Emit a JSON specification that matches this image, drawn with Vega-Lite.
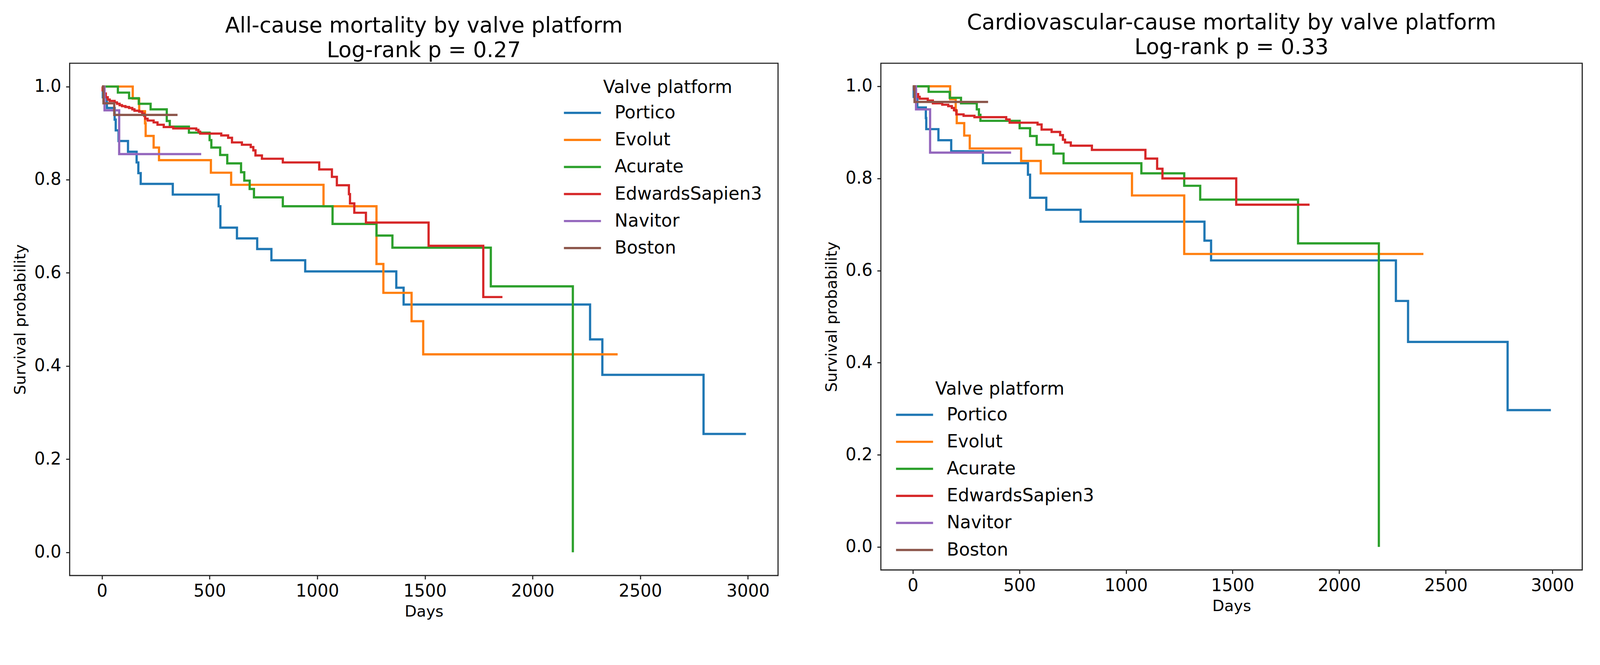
{
  "$schema": "https://vega.github.io/schema/vega-lite/v6.json",
  "padding": {"left": 31.3, "top": 29.9, "right": 5, "bottom": 5},
  "background": "white",
  "datasets": {
    "km": [
      {"p":"A","g":"Portico","d":0,"s":1},{"p":"A","g":"Portico","d":4,"s":0.977},{"p":"A","g":"Portico","d":23,"s":0.954},{"p":"A","g":"Portico","d":59,"s":0.929},{"p":"A","g":"Portico","d":64,"s":0.906},{"p":"A","g":"Portico","d":77,"s":0.883},{"p":"A","g":"Portico","d":121,"s":0.86},{"p":"A","g":"Portico","d":161,"s":0.837},{"p":"A","g":"Portico","d":169,"s":0.814},{"p":"A","g":"Portico","d":180,"s":0.791},{"p":"A","g":"Portico","d":329,"s":0.768},{"p":"A","g":"Portico","d":542,"s":0.743},{"p":"A","g":"Portico","d":550,"s":0.697},{"p":"A","g":"Portico","d":627,"s":0.674},{"p":"A","g":"Portico","d":721,"s":0.651},{"p":"A","g":"Portico","d":787,"s":0.627},{"p":"A","g":"Portico","d":944,"s":0.603},{"p":"A","g":"Portico","d":1367,"s":0.568},{"p":"A","g":"Portico","d":1401,"s":0.532},{"p":"A","g":"Portico","d":2267,"s":0.457},{"p":"A","g":"Portico","d":2324,"s":0.381},{"p":"A","g":"Portico","d":2794,"s":0.254},{"p":"A","g":"Portico","d":2991,"s":0.254},
      {"p":"A","g":"Evolut","d":0,"s":1},{"p":"A","g":"Evolut","d":143,"s":0.974},{"p":"A","g":"Evolut","d":173,"s":0.947},{"p":"A","g":"Evolut","d":200,"s":0.921},{"p":"A","g":"Evolut","d":203,"s":0.894},{"p":"A","g":"Evolut","d":240,"s":0.869},{"p":"A","g":"Evolut","d":265,"s":0.842},{"p":"A","g":"Evolut","d":506,"s":0.815},{"p":"A","g":"Evolut","d":600,"s":0.789},{"p":"A","g":"Evolut","d":1029,"s":0.743},{"p":"A","g":"Evolut","d":1275,"s":0.619},{"p":"A","g":"Evolut","d":1307,"s":0.557},{"p":"A","g":"Evolut","d":1438,"s":0.496},{"p":"A","g":"Evolut","d":1492,"s":0.425},{"p":"A","g":"Evolut","d":2395,"s":0.425},
      {"p":"A","g":"Acurate","d":0,"s":1},{"p":"A","g":"Acurate","d":74,"s":0.987},{"p":"A","g":"Acurate","d":126,"s":0.975},{"p":"A","g":"Acurate","d":171,"s":0.963},{"p":"A","g":"Acurate","d":226,"s":0.951},{"p":"A","g":"Acurate","d":301,"s":0.926},{"p":"A","g":"Acurate","d":315,"s":0.914},{"p":"A","g":"Acurate","d":404,"s":0.901},{"p":"A","g":"Acurate","d":500,"s":0.885},{"p":"A","g":"Acurate","d":508,"s":0.869},{"p":"A","g":"Acurate","d":549,"s":0.853},{"p":"A","g":"Acurate","d":582,"s":0.835},{"p":"A","g":"Acurate","d":646,"s":0.816},{"p":"A","g":"Acurate","d":661,"s":0.798},{"p":"A","g":"Acurate","d":686,"s":0.78},{"p":"A","g":"Acurate","d":706,"s":0.762},{"p":"A","g":"Acurate","d":840,"s":0.743},{"p":"A","g":"Acurate","d":1071,"s":0.705},{"p":"A","g":"Acurate","d":1275,"s":0.68},{"p":"A","g":"Acurate","d":1349,"s":0.654},{"p":"A","g":"Acurate","d":1806,"s":0.571},{"p":"A","g":"Acurate","d":2187,"s":0},
      {"p":"A","g":"EdwardsSapien3","d":0,"s":1},{"p":"A","g":"EdwardsSapien3","d":3,"s":0.992},{"p":"A","g":"EdwardsSapien3","d":9,"s":0.985},{"p":"A","g":"EdwardsSapien3","d":18,"s":0.977},{"p":"A","g":"EdwardsSapien3","d":27,"s":0.972},{"p":"A","g":"EdwardsSapien3","d":36,"s":0.969},{"p":"A","g":"EdwardsSapien3","d":59,"s":0.966},{"p":"A","g":"EdwardsSapien3","d":70,"s":0.963},{"p":"A","g":"EdwardsSapien3","d":82,"s":0.96},{"p":"A","g":"EdwardsSapien3","d":93,"s":0.958},{"p":"A","g":"EdwardsSapien3","d":109,"s":0.956},{"p":"A","g":"EdwardsSapien3","d":126,"s":0.954},{"p":"A","g":"EdwardsSapien3","d":141,"s":0.951},{"p":"A","g":"EdwardsSapien3","d":151,"s":0.948},{"p":"A","g":"EdwardsSapien3","d":173,"s":0.946},{"p":"A","g":"EdwardsSapien3","d":187,"s":0.942},{"p":"A","g":"EdwardsSapien3","d":196,"s":0.937},{"p":"A","g":"EdwardsSapien3","d":201,"s":0.931},{"p":"A","g":"EdwardsSapien3","d":212,"s":0.927},{"p":"A","g":"EdwardsSapien3","d":240,"s":0.923},{"p":"A","g":"EdwardsSapien3","d":258,"s":0.918},{"p":"A","g":"EdwardsSapien3","d":287,"s":0.913},{"p":"A","g":"EdwardsSapien3","d":331,"s":0.91},{"p":"A","g":"EdwardsSapien3","d":438,"s":0.907},{"p":"A","g":"EdwardsSapien3","d":448,"s":0.903},{"p":"A","g":"EdwardsSapien3","d":456,"s":0.899},{"p":"A","g":"EdwardsSapien3","d":554,"s":0.895},{"p":"A","g":"EdwardsSapien3","d":586,"s":0.89},{"p":"A","g":"EdwardsSapien3","d":604,"s":0.88},{"p":"A","g":"EdwardsSapien3","d":650,"s":0.875},{"p":"A","g":"EdwardsSapien3","d":691,"s":0.87},{"p":"A","g":"EdwardsSapien3","d":703,"s":0.863},{"p":"A","g":"EdwardsSapien3","d":713,"s":0.852},{"p":"A","g":"EdwardsSapien3","d":743,"s":0.845},{"p":"A","g":"EdwardsSapien3","d":840,"s":0.837},{"p":"A","g":"EdwardsSapien3","d":1009,"s":0.822},{"p":"A","g":"EdwardsSapien3","d":1068,"s":0.806},{"p":"A","g":"EdwardsSapien3","d":1091,"s":0.788},{"p":"A","g":"EdwardsSapien3","d":1147,"s":0.769},{"p":"A","g":"EdwardsSapien3","d":1152,"s":0.749},{"p":"A","g":"EdwardsSapien3","d":1172,"s":0.729},{"p":"A","g":"EdwardsSapien3","d":1226,"s":0.708},{"p":"A","g":"EdwardsSapien3","d":1517,"s":0.658},{"p":"A","g":"EdwardsSapien3","d":1771,"s":0.548},{"p":"A","g":"EdwardsSapien3","d":1860,"s":0.548},
      {"p":"A","g":"Navitor","d":0,"s":1},{"p":"A","g":"Navitor","d":12,"s":0.949},{"p":"A","g":"Navitor","d":80,"s":0.855},{"p":"A","g":"Navitor","d":461,"s":0.855},
      {"p":"A","g":"Boston","d":0,"s":1},{"p":"A","g":"Boston","d":7,"s":0.964},{"p":"A","g":"Boston","d":57,"s":0.939},{"p":"A","g":"Boston","d":351,"s":0.939},
      {"p":"B","g":"Portico","d":0,"s":1},{"p":"B","g":"Portico","d":4,"s":0.977},{"p":"B","g":"Portico","d":21,"s":0.954},{"p":"B","g":"Portico","d":61,"s":0.931},{"p":"B","g":"Portico","d":63,"s":0.907},{"p":"B","g":"Portico","d":120,"s":0.883},{"p":"B","g":"Portico","d":180,"s":0.859},{"p":"B","g":"Portico","d":329,"s":0.833},{"p":"B","g":"Portico","d":540,"s":0.808},{"p":"B","g":"Portico","d":550,"s":0.758},{"p":"B","g":"Portico","d":626,"s":0.732},{"p":"B","g":"Portico","d":787,"s":0.706},{"p":"B","g":"Portico","d":1368,"s":0.665},{"p":"B","g":"Portico","d":1399,"s":0.622},{"p":"B","g":"Portico","d":2266,"s":0.534},{"p":"B","g":"Portico","d":2323,"s":0.445},{"p":"B","g":"Portico","d":2790,"s":0.297},{"p":"B","g":"Portico","d":2993,"s":0.297},
      {"p":"B","g":"Evolut","d":0,"s":1},{"p":"B","g":"Evolut","d":175,"s":0.972},{"p":"B","g":"Evolut","d":201,"s":0.947},{"p":"B","g":"Evolut","d":206,"s":0.92},{"p":"B","g":"Evolut","d":241,"s":0.893},{"p":"B","g":"Evolut","d":267,"s":0.865},{"p":"B","g":"Evolut","d":508,"s":0.838},{"p":"B","g":"Evolut","d":600,"s":0.811},{"p":"B","g":"Evolut","d":1028,"s":0.763},{"p":"B","g":"Evolut","d":1273,"s":0.636},{"p":"B","g":"Evolut","d":2395,"s":0.636},
      {"p":"B","g":"Acurate","d":0,"s":1},{"p":"B","g":"Acurate","d":74,"s":0.988},{"p":"B","g":"Acurate","d":173,"s":0.975},{"p":"B","g":"Acurate","d":226,"s":0.963},{"p":"B","g":"Acurate","d":300,"s":0.95},{"p":"B","g":"Acurate","d":310,"s":0.938},{"p":"B","g":"Acurate","d":317,"s":0.925},{"p":"B","g":"Acurate","d":501,"s":0.909},{"p":"B","g":"Acurate","d":550,"s":0.892},{"p":"B","g":"Acurate","d":581,"s":0.873},{"p":"B","g":"Acurate","d":660,"s":0.854},{"p":"B","g":"Acurate","d":707,"s":0.833},{"p":"B","g":"Acurate","d":1072,"s":0.811},{"p":"B","g":"Acurate","d":1273,"s":0.784},{"p":"B","g":"Acurate","d":1348,"s":0.754},{"p":"B","g":"Acurate","d":1807,"s":0.659},{"p":"B","g":"Acurate","d":2186,"s":0},
      {"p":"B","g":"EdwardsSapien3","d":0,"s":1},{"p":"B","g":"EdwardsSapien3","d":6,"s":0.993},{"p":"B","g":"EdwardsSapien3","d":15,"s":0.983},{"p":"B","g":"EdwardsSapien3","d":25,"s":0.977},{"p":"B","g":"EdwardsSapien3","d":32,"s":0.973},{"p":"B","g":"EdwardsSapien3","d":70,"s":0.969},{"p":"B","g":"EdwardsSapien3","d":94,"s":0.963},{"p":"B","g":"EdwardsSapien3","d":138,"s":0.96},{"p":"B","g":"EdwardsSapien3","d":166,"s":0.957},{"p":"B","g":"EdwardsSapien3","d":183,"s":0.953},{"p":"B","g":"EdwardsSapien3","d":193,"s":0.948},{"p":"B","g":"EdwardsSapien3","d":204,"s":0.939},{"p":"B","g":"EdwardsSapien3","d":238,"s":0.936},{"p":"B","g":"EdwardsSapien3","d":289,"s":0.933},{"p":"B","g":"EdwardsSapien3","d":438,"s":0.928},{"p":"B","g":"EdwardsSapien3","d":454,"s":0.921},{"p":"B","g":"EdwardsSapien3","d":585,"s":0.917},{"p":"B","g":"EdwardsSapien3","d":604,"s":0.906},{"p":"B","g":"EdwardsSapien3","d":651,"s":0.901},{"p":"B","g":"EdwardsSapien3","d":691,"s":0.894},{"p":"B","g":"EdwardsSapien3","d":704,"s":0.884},{"p":"B","g":"EdwardsSapien3","d":714,"s":0.878},{"p":"B","g":"EdwardsSapien3","d":741,"s":0.871},{"p":"B","g":"EdwardsSapien3","d":840,"s":0.862},{"p":"B","g":"EdwardsSapien3","d":1091,"s":0.843},{"p":"B","g":"EdwardsSapien3","d":1146,"s":0.821},{"p":"B","g":"EdwardsSapien3","d":1171,"s":0.8},{"p":"B","g":"EdwardsSapien3","d":1517,"s":0.743},{"p":"B","g":"EdwardsSapien3","d":1861,"s":0.743},
      {"p":"B","g":"Navitor","d":0,"s":1},{"p":"B","g":"Navitor","d":15,"s":0.95},{"p":"B","g":"Navitor","d":81,"s":0.856},{"p":"B","g":"Navitor","d":461,"s":0.856},
      {"p":"B","g":"Boston","d":0,"s":1},{"p":"B","g":"Boston","d":8,"s":0.966},{"p":"B","g":"Boston","d":353,"s":0.966}
    ]
  },
  "spacing": 114.7,
  "hconcat": [
    {
      "width": 1813.5,
      "height": 1311.1,
      "title": {"text": ["All-cause mortality by valve platform", "Log-rank p = 0.27"], "offset": 3.8},
      "data": {"name": "km"},
      "transform": [{"filter": "datum.p == 'A'"}],
      "mark": {"type": "line", "interpolate": "step-after", "strokeWidth": 5.7, "strokeJoin": "miter"},
      "encoding": {
        "x": {"field": "d", "type": "quantitative", "title": "Days",
              "scale": {"domain": [-150, 3140], "nice": false, "zero": false},
              "axis": {"values": [0, 500, 1000, 1500, 2000, 2500, 3000], "format": "d"}},
        "y": {"field": "s", "type": "quantitative", "title": "Survival probability",
              "scale": {"domain": [-0.05, 1.05], "nice": false, "zero": false},
              "axis": {"values": [0, 0.2, 0.4, 0.6, 0.8, 1.0], "format": ".1f"}},
        "color": {"field": "g", "type": "nominal",
                  "scale": {"domain": ["Portico", "Evolut", "Acurate", "EdwardsSapien3", "Navitor", "Boston"],
                            "range": ["#1f77b4", "#ff7f0e", "#2ca02c", "#d62728", "#9467bd", "#8c564b"]},
                  "legend": {"title": "Valve platform", "orient": "none", "legendX": 1290, "legendY": 39.8}}
      }
    },
    {
      "width": 1795.5,
      "height": 1296.9,
      "title": {"text": ["Cardiovascular-cause mortality by valve platform", "Log-rank p = 0.33"], "offset": 11.85},
      "data": {"name": "km"},
      "transform": [{"filter": "datum.p == 'B'"}],
      "mark": {"type": "line", "interpolate": "step-after", "strokeWidth": 5.7, "strokeJoin": "miter"},
      "encoding": {
        "x": {"field": "d", "type": "quantitative", "title": "Days",
              "scale": {"domain": [-150, 3140], "nice": false, "zero": false},
              "axis": {"values": [0, 500, 1000, 1500, 2000, 2500, 3000], "format": "d"}},
        "y": {"field": "s", "type": "quantitative", "title": "Survival probability",
              "scale": {"domain": [-0.05, 1.05], "nice": false, "zero": false},
              "axis": {"values": [0, 0.2, 0.4, 0.6, 0.8, 1.0], "format": ".1f"}},
        "color": {"field": "g", "type": "nominal",
                  "scale": {"domain": ["Portico", "Evolut", "Acurate", "EdwardsSapien3", "Navitor", "Boston"],
                            "range": ["#1f77b4", "#ff7f0e", "#2ca02c", "#d62728", "#9467bd", "#8c564b"]},
                  "legend": {"title": "Valve platform", "orient": "none", "legendX": 63.5, "legendY": 812.4}}
      }
    }
  ],
  "resolve": {"legend": {"color": "independent"}, "scale": {"x": "independent", "y": "independent"}},
  "config": {
    "font": "DejaVu Sans",
    "view": {"stroke": "#222222", "strokeWidth": 2.84},
    "title": {"fontSize": 55, "fontWeight": "normal", "color": "black", "anchor": "middle", "frame": "group", "baseline": "bottom", "lineHeight": 62.6},
    "axis": {"domain": false, "grid": false, "ticks": true, "tickSize": 9.5, "tickWidth": 2.84, "tickColor": "#222222",
             "labelFontSize": 43.6, "labelColor": "black", "titleFontSize": 39.8, "titleFontWeight": "normal", "titleColor": "black",
             "labelFlush": false, "labelOverlap": false},
    "axisX": {"labelPadding": 10.4, "titlePadding": 11.4},
    "axisY": {"labelPadding": 12.3, "titlePadding": 14.2},
    "legend": {"symbolType": "M-4,0H4", "symbolSize": 562, "symbolStrokeWidth": 5.7, "labelFontSize": 45.5, "titleFontSize": 45.5,
               "titleFontWeight": "normal", "titleColor": "black", "labelColor": "black", "labelOffset": 59.75, "rowPadding": 22.2,
               "titlePadding": 19, "padding": 0, "titleAnchor": "middle", "labelLimit": 1000, "titleLimit": 2000}
  }
}
